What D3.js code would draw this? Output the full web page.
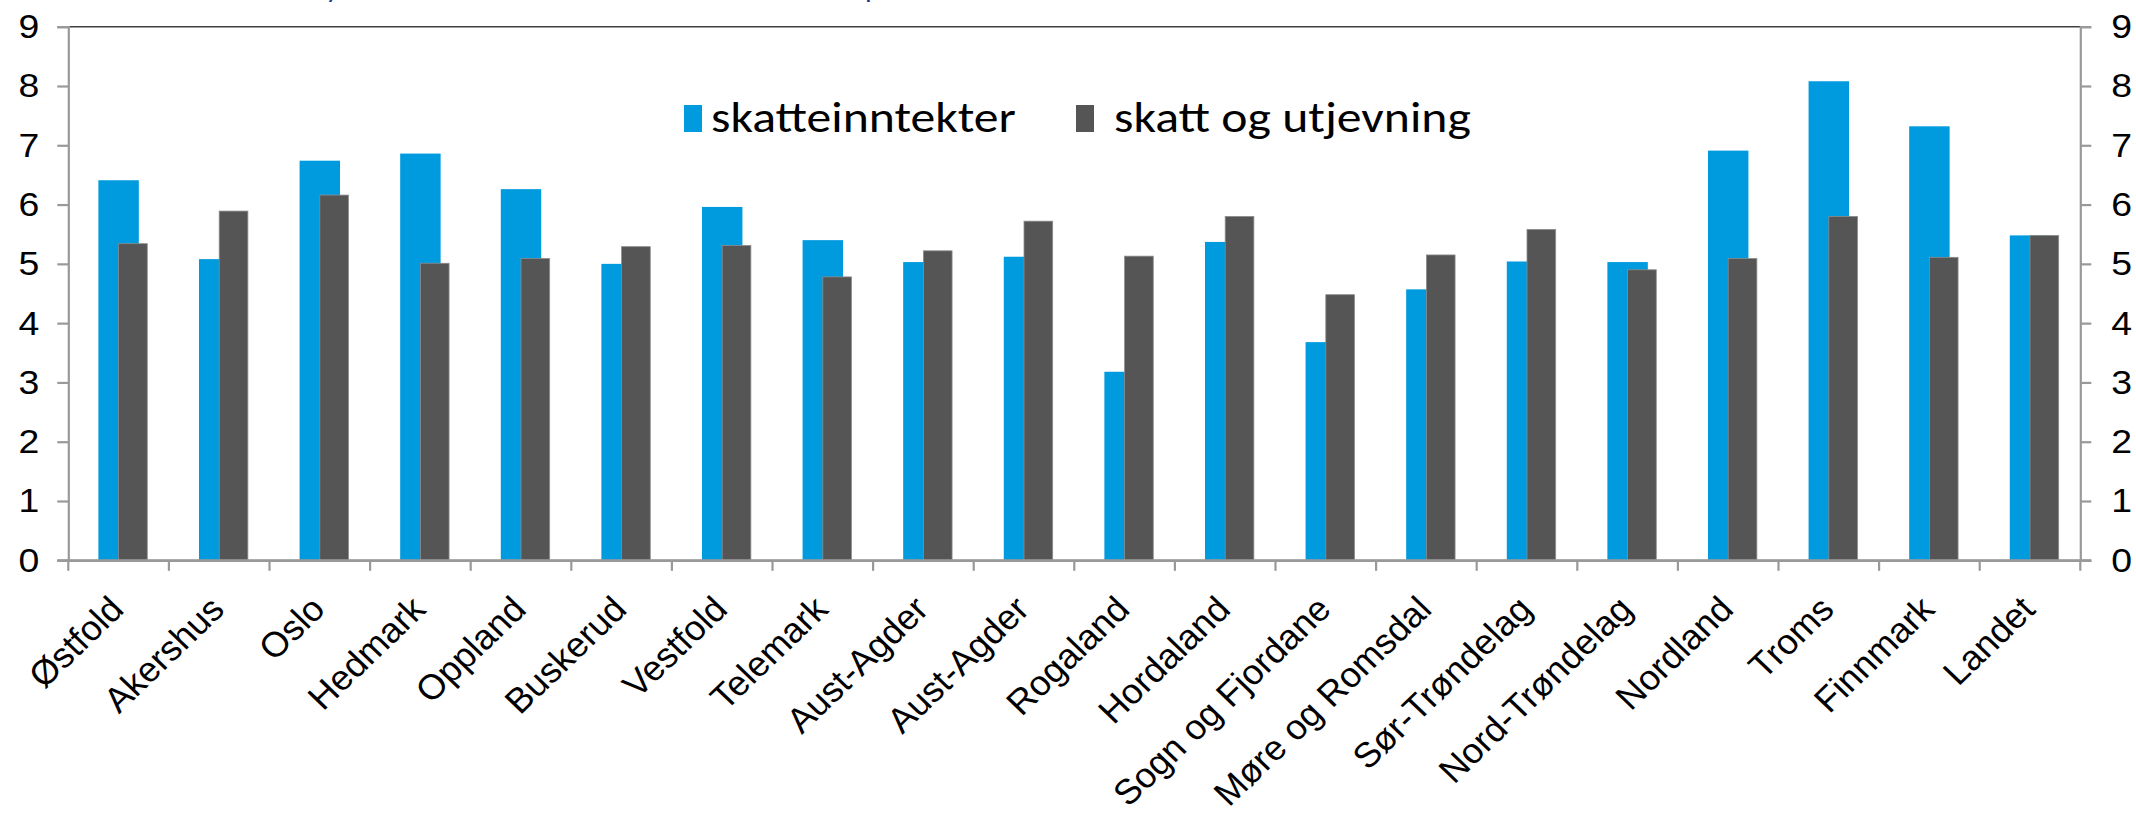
<!DOCTYPE html>
<html>
<head>
<meta charset="utf-8">
<script src="https://cdn.jsdelivr.net/npm/d3@7"></script>
<style>
  html, body { margin: 0; padding: 0; background: #fff; }
  svg { display: block; }
</style>
</head>
<body>
<svg id="chart" width="2136" height="813"></svg>
<script>
const categories = ["Østfold","Akershus","Oslo","Hedmark","Oppland","Buskerud","Vestfold","Telemark","Aust-Agder","Aust-Agder","Rogaland","Hordaland","Sogn og Fjordane","Møre og Romsdal","Sør-Trøndelag","Nord-Trøndelag","Nordland","Troms","Finnmark","Landet"];
const skatteinntekter = [6.41,5.08,6.74,6.86,6.26,5.00,5.96,5.40,5.03,5.12,3.18,5.37,3.68,4.57,5.04,5.03,6.91,8.08,7.32,5.48];
const skattOgUtjevning = [5.34,5.89,6.16,5.01,5.09,5.29,5.31,4.78,5.22,5.72,5.13,5.80,4.48,5.15,5.58,4.90,5.09,5.80,5.11,5.48];
const yTicks = [0,1,2,3,4,5,6,7,8,9];
const seriesNames = ["skatteinntekter","skatt og utjevning"];
const seriesColors = ["#009BDF","#555555"];
const titleText = "Fylkeskommunenes skatteinntekter i 1000 kr. per innb.";

const svg = d3.select("#chart");
const plotLeft = 68.3, plotRight = 2080.3, plotTop = 26.7, plotBottom = 560.3;
const sx = 1.1;  // horizontal stretch of the original rendering (tick numbers)
const sxLegend = 1.13;
const sxCat = 1.04;

const x = d3.scaleBand().domain(d3.range(categories.length)).range([plotLeft, plotRight]).padding(0);
const y = d3.scaleLinear().domain([0, 9]).range([plotBottom, plotTop]);
const bw = x.bandwidth();

// clipped title at very top
svg.append("text")
  .attr("x", 312).attr("y", -3)
  .attr("font-family", "Carlito, 'Liberation Sans Narrow', 'Open Sans', sans-serif")
  .attr("font-size", 30)
  .attr("fill", "#1b3a86")
  .text(titleText);

// top border
svg.append("line")
  .attr("x1", plotLeft).attr("x2", plotRight)
  .attr("y1", plotTop).attr("y2", plotTop)
  .attr("stroke", "#404040").attr("stroke-width", 1.5);

// bars: blue (centered)
svg.append("g").selectAll("rect")
  .data(skatteinntekter)
  .join("rect")
  .attr("x", (d, i) => x(i) + bw / 2 - 0.201 * bw)
  .attr("width", 0.402 * bw)
  .attr("y", d => y(d))
  .attr("height", d => y(0) - y(d))
  .attr("fill", seriesColors[0]);

// bars: dark (starting at center)
svg.append("g").selectAll("rect")
  .data(skattOgUtjevning)
  .join("rect")
  .attr("x", (d, i) => x(i) + bw / 2)
  .attr("width", 0.285 * bw)
  .attr("y", d => y(d))
  .attr("height", d => y(0) - y(d))
  .attr("fill", seriesColors[1])
  .attr("stroke", "#8c8c8c").attr("stroke-width", 0.8);

// left axis
const yLeft = d3.axisLeft(y).tickValues(yTicks).tickSize(11).tickPadding(18).tickFormat(d3.format("d"));
const gl = svg.append("g").attr("transform", `translate(${plotLeft},0)`).call(yLeft);
// right axis
const yRight = d3.axisRight(y).tickValues(yTicks).tickSize(11).tickPadding(20).tickFormat(d3.format("d"));
const gr = svg.append("g").attr("transform", `translate(${plotRight},0)`).call(yRight);

[gl, gr].forEach(g => {
  g.select(".domain").attr("stroke", "#999").attr("stroke-width", 2.2);
  g.selectAll(".tick line").attr("stroke", "#999").attr("stroke-width", 2.2);
  g.selectAll(".tick text")
    .attr("font-family", "'Liberation Sans', Arial, sans-serif")
    .attr("font-size", 34).attr("fill", "#000");
});
gl.selectAll(".tick text").attr("x", 0).attr("transform", `translate(-29,0) scale(${sx},1)`);
gr.selectAll(".tick text").attr("x", 0).attr("transform", `translate(31,0) scale(${sx},1)`);

// x axis
const xAxis = d3.axisBottom(x).tickSize(0).tickFormat(i => categories[i]);
const gx = svg.append("g").attr("transform", `translate(0,${plotBottom})`).call(xAxis);
gx.select(".domain").attr("stroke", "#999").attr("stroke-width", 2.2);
// boundary ticks
gx.selectAll(".bound")
  .data(d3.range(categories.length + 1))
  .join("line")
  .attr("class", "bound")
  .attr("x1", i => plotLeft + i * bw).attr("x2", i => plotLeft + i * bw)
  .attr("y1", 0).attr("y2", 10.5)
  .attr("stroke", "#999").attr("stroke-width", 2.2);
gx.selectAll(".tick text")
  .attr("font-family", "'Liberation Sans', Arial, sans-serif")
  .attr("font-size", 35).attr("fill", "#000")
  .attr("text-anchor", "end")
  .attr("x", 0).attr("y", 0).attr("dy", 0)
  .attr("transform", `translate(7, 51) scale(${sxCat},1) rotate(-45)`);
// horizontal axis line extends to outer ticks
svg.append("line").attr("x1", plotLeft - 11).attr("x2", plotRight + 11)
  .attr("y1", plotBottom).attr("y2", plotBottom)
  .attr("stroke", "#999").attr("stroke-width", 2.2);

// legend
const legend = svg.append("g");
const legendItems = [
  { name: seriesNames[0], color: seriesColors[0], mx: 684, tx: 711 },
  { name: seriesNames[1], color: seriesColors[1], mx: 1076, tx: 1114 }
];
legendItems.forEach(it => {
  legend.append("rect").attr("x", it.mx).attr("y", 105).attr("width", 18).attr("height", 27).attr("fill", it.color);
  legend.append("text").attr("x", 0).attr("y", 0)
    .attr("transform", `translate(${it.tx},132) scale(${sxLegend},1)`)
    .attr("font-family", "Carlito, 'Open Sans', sans-serif")
    .attr("font-size", 44).attr("fill", "#000")
    .text(it.name);
});
</script>
</body>
</html>
